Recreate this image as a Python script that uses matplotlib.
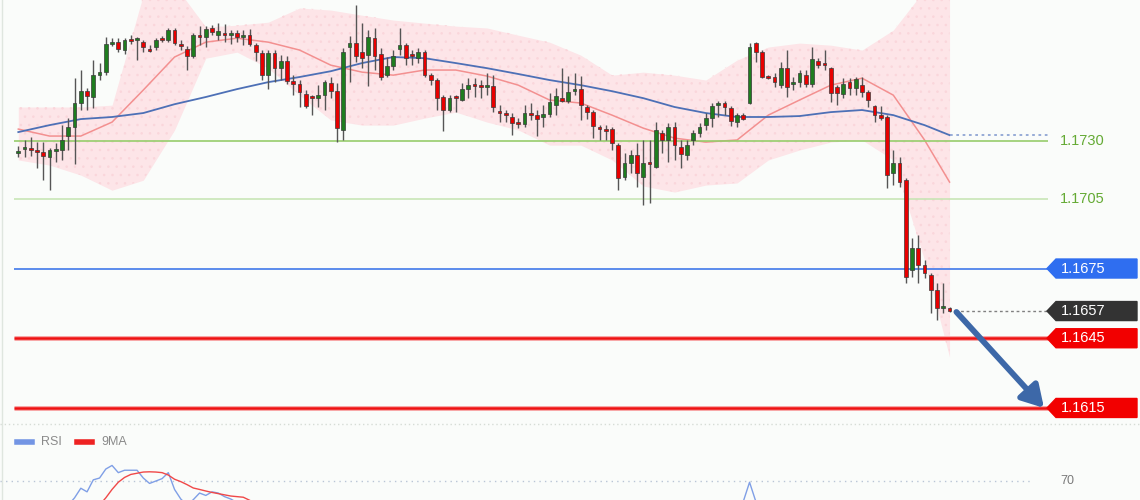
import numpy as np
import matplotlib
matplotlib.use('Agg')
import matplotlib.pyplot as plt
from matplotlib.patches import Polygon
from matplotlib.lines import Line2D
from matplotlib.transforms import blended_transform_factory

plt.rcParams['font.family'] = ['Liberation Sans', 'DejaVu Sans']
plt.rcParams['hatch.linewidth'] = 0.6

# --- candles (EURUSD) ---
opens = [1.17247, 1.17264, 1.17268, 1.17260, 1.17251, 1.17229, 1.17255, 1.17260, 1.17320, 1.17359,
         1.17462, 1.17513, 1.17488, 1.17582, 1.17595, 1.17716, 1.17724, 1.17690, 1.17737, 1.17733,
         1.17724, 1.17694, 1.17703, 1.17741, 1.17733, 1.17776, 1.17716, 1.17694, 1.17664, 1.17754,
         1.17746, 1.17785, 1.17754, 1.17763, 1.17754, 1.17763, 1.17746, 1.17754, 1.17711, 1.17677,
         1.17582, 1.17677, 1.17612, 1.17643, 1.17556, 1.17544, 1.17501, 1.17492, 1.17483, 1.17496,
         1.17548, 1.17513, 1.17346, 1.17703, 1.17720, 1.17681, 1.17668, 1.17741, 1.17673, 1.17582,
         1.17621, 1.17694, 1.17711, 1.17673, 1.17655, 1.17681, 1.17582, 1.17561, 1.17488, 1.17432,
         1.17492, 1.17475, 1.17522, 1.17544, 1.17539, 1.17531, 1.17535, 1.17427, 1.17419, 1.17402,
         1.17380, 1.17371, 1.17419, 1.17410, 1.17402, 1.17414, 1.17453, 1.17483, 1.17470, 1.17513,
         1.17522, 1.17445, 1.17423, 1.17359, 1.17350, 1.17350, 1.17281, 1.17143, 1.17204, 1.17238,
         1.17143, 1.17208, 1.17186, 1.17333, 1.17303, 1.17359, 1.17272, 1.17238, 1.17303, 1.17333,
         1.17367, 1.17397, 1.17453, 1.17462, 1.17440, 1.17380, 1.17410, 1.17462, 1.17720, 1.17681,
         1.17578, 1.17574, 1.17539, 1.17612, 1.17544, 1.17552, 1.17582, 1.17544, 1.17643, 1.17634,
         1.17612, 1.17531, 1.17501, 1.17552, 1.17526, 1.17539, 1.17509, 1.17449, 1.17410, 1.17402,
         1.17161, 1.17204, 1.17130, 1.16743, 1.16838, 1.16765, 1.16722, 1.16657, 1.16580, 1.16580]
highs = [1.17277, 1.17303, 1.17315, 1.17294, 1.17294, 1.17268, 1.17290, 1.17367, 1.17397, 1.17569,
         1.17604, 1.17526, 1.17647, 1.17634, 1.17746, 1.17741, 1.17741, 1.17741, 1.17754, 1.17746,
         1.17733, 1.17711, 1.17741, 1.17750, 1.17785, 1.17785, 1.17733, 1.17707, 1.17763, 1.17793,
         1.17793, 1.17797, 1.17806, 1.17802, 1.17776, 1.17776, 1.17776, 1.17780, 1.17720, 1.17690,
         1.17690, 1.17690, 1.17668, 1.17664, 1.17582, 1.17561, 1.17518, 1.17496, 1.17539, 1.17561,
         1.17574, 1.17548, 1.17698, 1.17750, 1.17883, 1.17806, 1.17776, 1.17785, 1.17698, 1.17660,
         1.17690, 1.17785, 1.17720, 1.17690, 1.17698, 1.17690, 1.17591, 1.17569, 1.17496, 1.17496,
         1.17496, 1.17548, 1.17569, 1.17569, 1.17561, 1.17591, 1.17582, 1.17453, 1.17432, 1.17419,
         1.17397, 1.17453, 1.17462, 1.17432, 1.17453, 1.17505, 1.17526, 1.17612, 1.17578, 1.17591,
         1.17578, 1.17453, 1.17432, 1.17367, 1.17367, 1.17359, 1.17290, 1.17247, 1.17260, 1.17290,
         1.17303, 1.17303, 1.17380, 1.17346, 1.17376, 1.17380, 1.17303, 1.17303, 1.17346, 1.17376,
         1.17419, 1.17462, 1.17470, 1.17470, 1.17449, 1.17419, 1.17419, 1.17720, 1.17724, 1.17690,
         1.17582, 1.17591, 1.17638, 1.17690, 1.17574, 1.17604, 1.17604, 1.17703, 1.17655, 1.17690,
         1.17617, 1.17539, 1.17569, 1.17569, 1.17574, 1.17574, 1.17518, 1.17453, 1.17449, 1.17410,
         1.17260, 1.17229, 1.17139, 1.16881, 1.16894, 1.16786, 1.16730, 1.16687, 1.16687, 1.16584]
lows = [1.17229, 1.17229, 1.17234, 1.17182, 1.17130, 1.17087, 1.17208, 1.17217, 1.17260, 1.17199,
        1.17432, 1.17432, 1.17440, 1.17561, 1.17582, 1.17707, 1.17681, 1.17673, 1.17716, 1.17647,
        1.17681, 1.17681, 1.17690, 1.17724, 1.17724, 1.17711, 1.17690, 1.17604, 1.17655, 1.17711,
        1.17703, 1.17754, 1.17733, 1.17724, 1.17716, 1.17724, 1.17711, 1.17707, 1.17643, 1.17561,
        1.17522, 1.17552, 1.17561, 1.17544, 1.17496, 1.17445, 1.17440, 1.17410, 1.17445, 1.17432,
        1.17483, 1.17294, 1.17303, 1.17552, 1.17638, 1.17612, 1.17535, 1.17604, 1.17561, 1.17574,
        1.17604, 1.17668, 1.17625, 1.17625, 1.17634, 1.17574, 1.17539, 1.17432, 1.17341, 1.17423,
        1.17423, 1.17470, 1.17483, 1.17488, 1.17483, 1.17496, 1.17423, 1.17380, 1.17380, 1.17324,
        1.17354, 1.17359, 1.17389, 1.17320, 1.17359, 1.17402, 1.17410, 1.17466, 1.17462, 1.17496,
        1.17389, 1.17393, 1.17311, 1.17303, 1.17303, 1.17260, 1.17087, 1.17130, 1.17161, 1.17100,
        1.17023, 1.17031, 1.17182, 1.17247, 1.17208, 1.17217, 1.17182, 1.17217, 1.17281, 1.17315,
        1.17346, 1.17359, 1.17402, 1.17410, 1.17363, 1.17359, 1.17389, 1.17457, 1.17638, 1.17569,
        1.17565, 1.17531, 1.17526, 1.17488, 1.17518, 1.17531, 1.17531, 1.17531, 1.17612, 1.17604,
        1.17466, 1.17453, 1.17483, 1.17496, 1.17496, 1.17488, 1.17445, 1.17380, 1.17389, 1.17096,
        1.17109, 1.17100, 1.16687, 1.16713, 1.16687, 1.16709, 1.16558, 1.16528, 1.16558, 1.16562]
closes = [1.17255, 1.17272, 1.17260, 1.17251, 1.17234, 1.17260, 1.17264, 1.17303, 1.17359, 1.17462,
          1.17513, 1.17492, 1.17582, 1.17595, 1.17716, 1.17724, 1.17694, 1.17733, 1.17729, 1.17741,
          1.17703, 1.17686, 1.17733, 1.17733, 1.17776, 1.17720, 1.17707, 1.17664, 1.17754, 1.17746,
          1.17780, 1.17767, 1.17772, 1.17754, 1.17763, 1.17746, 1.17754, 1.17716, 1.17681, 1.17582,
          1.17677, 1.17612, 1.17643, 1.17556, 1.17544, 1.17509, 1.17449, 1.17483, 1.17496, 1.17552,
          1.17513, 1.17354, 1.17681, 1.17720, 1.17664, 1.17655, 1.17746, 1.17664, 1.17574, 1.17621,
          1.17664, 1.17711, 1.17655, 1.17664, 1.17681, 1.17582, 1.17561, 1.17483, 1.17432, 1.17483,
          1.17483, 1.17522, 1.17539, 1.17535, 1.17531, 1.17539, 1.17445, 1.17419, 1.17410, 1.17376,
          1.17371, 1.17419, 1.17410, 1.17393, 1.17414, 1.17466, 1.17492, 1.17470, 1.17509, 1.17522,
          1.17453, 1.17423, 1.17363, 1.17350, 1.17341, 1.17290, 1.17139, 1.17204, 1.17238, 1.17161,
          1.17204, 1.17199, 1.17346, 1.17303, 1.17359, 1.17281, 1.17242, 1.17281, 1.17333, 1.17359,
          1.17397, 1.17449, 1.17462, 1.17445, 1.17384, 1.17410, 1.17393, 1.17703, 1.17681, 1.17574,
          1.17569, 1.17552, 1.17612, 1.17531, 1.17552, 1.17591, 1.17544, 1.17651, 1.17625, 1.17625,
          1.17505, 1.17505, 1.17544, 1.17526, 1.17565, 1.17509, 1.17475, 1.17410, 1.17397, 1.17152,
          1.17204, 1.17122, 1.16713, 1.16838, 1.16765, 1.16730, 1.16657, 1.16580, 1.16584, 1.16567]

# --- Bollinger band and moving averages, read every 5 candles ---
band_idx = [0, 5, 10, 15, 20, 25, 30, 35, 40, 45, 50, 55, 60, 65, 70, 75, 80, 85, 90, 95,
            100, 105, 110, 115, 120, 125, 130, 135, 140, 145, 149]
band_up = [1.17445, 1.17445, 1.17445, 1.17453, 1.17927, 1.17970, 1.17789, 1.17797, 1.17810, 1.17871,
           1.17862, 1.17840, 1.17819, 1.17806, 1.17793, 1.17785, 1.17754, 1.17724, 1.17668, 1.17582,
           1.17595, 1.17582, 1.17561, 1.17647, 1.17703, 1.17720, 1.17711, 1.17690, 1.17776, 1.17948, 1.17991]
band_low = [1.17217, 1.17195, 1.17152, 1.17087, 1.17130, 1.17346, 1.17655, 1.17681, 1.17612, 1.17496,
            1.17389, 1.17367, 1.17367, 1.17397, 1.17423, 1.17380, 1.17346, 1.17281, 1.17281, 1.17217,
            1.17105, 1.17079, 1.17109, 1.17118, 1.17217, 1.17260, 1.17294, 1.17303, 1.17217, 1.16786, 1.16369]
ma_fast = [1.17350, 1.17320, 1.17320, 1.17380, 1.17518, 1.17660, 1.17724, 1.17741, 1.17724, 1.17690,
           1.17625, 1.17595, 1.17582, 1.17604, 1.17604, 1.17578, 1.17539, 1.17475, 1.17462, 1.17410,
           1.17354, 1.17311, 1.17294, 1.17303, 1.17410, 1.17475, 1.17539, 1.17569, 1.17496, 1.17303, 1.17122]
ma_slow = [1.17337, 1.17367, 1.17393, 1.17402, 1.17419, 1.17457, 1.17488, 1.17522, 1.17552, 1.17574,
           1.17599, 1.17634, 1.17660, 1.17655, 1.17634, 1.17612, 1.17587, 1.17561, 1.17539, 1.17513,
           1.17483, 1.17445, 1.17419, 1.17402, 1.17402, 1.17406, 1.17423, 1.17432, 1.17410, 1.17367, 1.17324]

# --- levels ---
green_levels = [1.1730, 1.1705]
pivot_level = 1.1675
target_levels = [1.1645, 1.1615]

# --- RSI panel (only the part above the crop line) ---
rsi_a_start = 8
rsi_a = [50, 56, 64, 61, 71, 72.5, 80, 83, 77, 79, 79, 79, 72.5, 68, 70, 72, 77, 63, 55, 50,
         54.5, 60, 58, 61, 60, 57, 55, 52, 50]
rsi_b_start = 115
rsi_b = [48, 53, 69, 53, 48]
ma9_start = 13
ma9 = [50, 56, 63, 69, 73, 75.5, 76.5, 77.5, 77.7, 77.5, 77, 75, 71.5, 69.5, 67, 64.2, 63,
       61.7, 60.5, 59.5, 58.5, 57.5, 57, 56.5, 54, 51, 49]

W, H = 1140, 500
bg = '#fafcfa'
x0_px, step_px = 18.3, 6.25


def px2i(px):
    return (px - x0_px) / step_px


fig = plt.figure(figsize=(W / 100, H / 100), dpi=100)
fig.patch.set_facecolor(bg)

ax = fig.add_axes([0, 75 / H, 1, 425 / H])
ax.set_facecolor(bg)
ax.set_xlim(px2i(0), px2i(W))
ymin, ymax = 1.160767, 1.179054
ax.set_ylim(ymin, ymax)
ax.axis('off')
dpp = (ymax - ymin) / 425.0
trans = blended_transform_factory(ax.transAxes, ax.transData)

opens = np.array(opens)
closes = np.array(closes)
n = len(closes)
idx = np.arange(n)

# band + averages
ax.fill_between(band_idx, band_low, band_up, color='#fde5e8', lw=0, zorder=1)
ax.fill_between(band_idx, band_low, band_up, facecolor='none', edgecolor='#fad6db',
                hatch='..', lw=0, zorder=1)
ax.plot(band_idx, ma_fast, color='#f39090', lw=1.1, zorder=2)
ax.plot(band_idx, ma_slow, color='#4d70b6', lw=1.3, zorder=2)
ax.plot([band_idx[-1], px2i(1048)], [ma_slow[-1]] * 2, color='#8fa5d4', lw=1.3,
        ls=(0, (1.5, 2)), zorder=2)

# horizontal levels
xl, xr = px2i(14), px2i(1048)
ax.hlines(green_levels[0], xl, xr, color='#97cd6c', lw=1.2, zorder=2)
ax.hlines(green_levels[1], xl, xr, color='#c4e4b0', lw=1.1, zorder=2)
ax.hlines(pivot_level, xl, xr, color='#3f78ea', lw=1.2, zorder=2)
for t in target_levels:
    ax.hlines(t, xl, xr, color='#f7a8a8', lw=3.6, zorder=2)
    ax.hlines(t, xl, xr, color='#ee1111', lw=1.8, zorder=2)
last = closes[-1]
ax.hlines(last, n - 0.2, xr, color='#808080', lw=1, linestyles=(0, (2, 2)), zorder=2)

# candles
up = closes >= opens
body_b = np.minimum(opens, closes)
body_h = np.maximum(np.abs(closes - opens), 1.6 * dpp)
ax.vlines(idx, lows, highs, color='#555555', lw=1, zorder=3)
ax.bar(idx, body_h, bottom=body_b, width=0.62, color=np.where(up, '#1f7d1f', '#e80000'),
       edgecolor='#3a3a3a', lw=0.5, zorder=4)


def tag(y, text, color):
    h = 9.5 * dpp
    xs = [1047 / W, 1056 / W, 1137 / W, 1137 / W, 1056 / W]
    ys = [y, y + h, y + h, y - h, y - h]
    ax.add_patch(Polygon(list(zip(xs, ys)), closed=True, transform=trans, color=color,
                         clip_on=False, zorder=6))
    ax.text(1061 / W, y, text, transform=trans, color='white', fontsize=10.5,
            va='center', ha='left', zorder=7)


for g in green_levels:
    ax.text(1060 / W, g, f'{g:.4f}', transform=trans, color='#64aa34', fontsize=10.5,
            va='center', ha='left')
tag(pivot_level, f'{pivot_level:.4f}', '#2f6ef0')
tag(last, f'{last:.4f}', '#333333')
for t in target_levels:
    tag(t, f'{t:.4f}', '#f20000')

# forecast arrow
ax.annotate('', xy=(px2i(1044), target_levels[1]), xytext=(n - 1 + 1.1, last - 0.00004),
            arrowprops=dict(arrowstyle='-|>,head_length=0.65,head_width=0.38',
                            mutation_scale=20, lw=4.2, color='#3d68a8',
                            shrinkA=0, shrinkB=0), zorder=8)

# RSI panel
rax = fig.add_axes([0, 0, 1, 75 / H])
rax.set_facecolor(bg)
rax.set_xlim(px2i(0), px2i(W))
rax.set_ylim(54.2, 116.7)
rax.axis('off')
rtrans = blended_transform_factory(rax.transAxes, rax.transData)
rax.hlines(70, px2i(0), px2i(1030), color='#b9c5d6', lw=1, linestyles=(0, (1, 3)))
rax.text(1060 / W, 70, '70', transform=rtrans, color='#7a7a7a', fontsize=9, va='center')
rax.plot(range(rsi_a_start, rsi_a_start + len(rsi_a)), rsi_a, color='#7f9fe6', lw=1)
rax.plot(range(rsi_b_start, rsi_b_start + len(rsi_b)), rsi_b, color='#7f9fe6', lw=1)
rax.plot(range(ma9_start, ma9_start + len(ma9)), ma9, color='#f04848', lw=1)

# legend of the RSI panel
ly = 1 - 442 / H
fig.add_artist(Line2D([17 / W, 32 / W], [ly, ly], color='#7395e4', lw=4))
fig.text(41 / W, ly, 'RSI', color='#8a8a8a', fontsize=9, va='center')
fig.add_artist(Line2D([77 / W, 92 / W], [ly, ly], color='#ee2222', lw=4))
fig.text(101 / W, ly, '9MA', color='#8a8a8a', fontsize=9, va='center')

# panel separator and left edge
fig.add_artist(Line2D([0, 1], [1 - 424 / H] * 2, color='#d6dcd6', lw=1, ls=(0, (1, 2))))
fig.add_artist(Line2D([1.5 / W] * 2, [0, 1], color='#dfe6df', lw=1))

fig.savefig('out.png', dpi=100, facecolor=bg)
